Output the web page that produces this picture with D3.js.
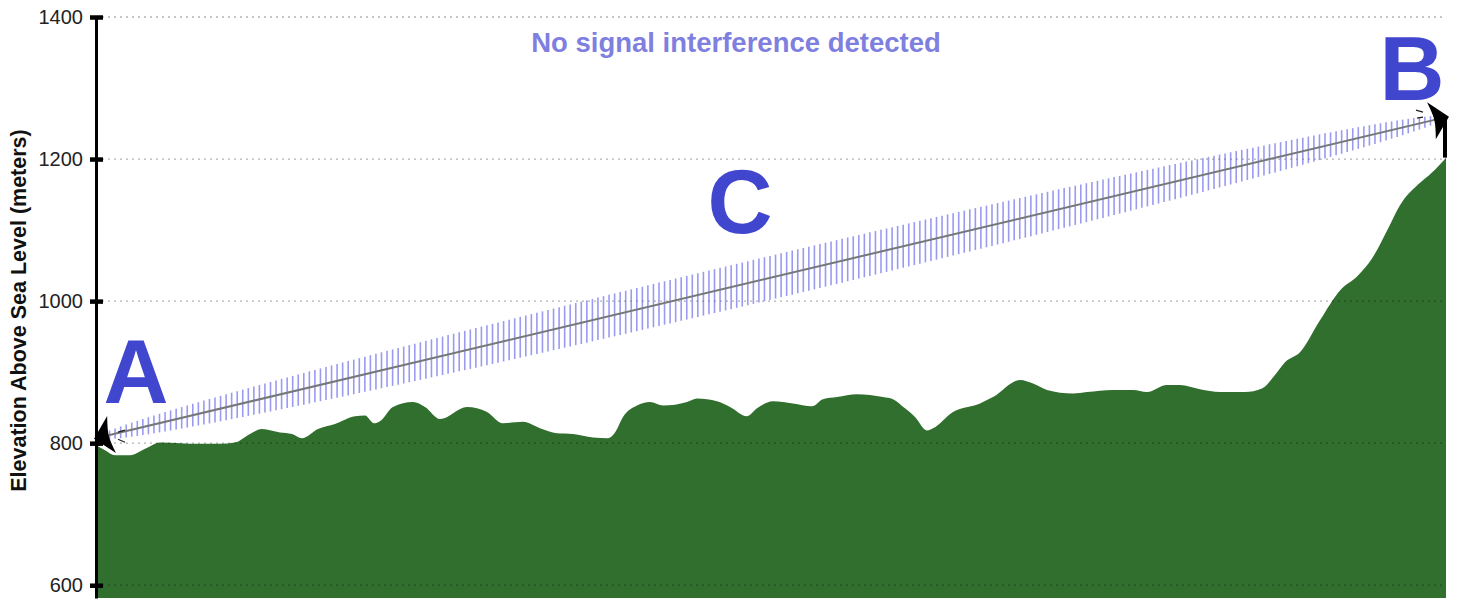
<!DOCTYPE html>
<html>
<head>
<meta charset="utf-8">
<script src="https://cdn.jsdelivr.net/npm/d3@7"></script>
<style>
  html, body { margin: 0; padding: 0; background: #fff; }
  svg { display: block; font-family: "Liberation Sans", Arial, sans-serif; }
</style>
</head>
<body>
<div id="chart"></div>
<script>
// Terrain profile between site A and site B (distance km, elevation m)
const distances = [
  0, 0.18, 0.38, 0.68, 0.98, 1.28, 1.68, 2.08, 2.48, 2.78, 3.08, 3.32, 3.68, 3.92, 4.12,
  4.44, 4.78, 5.18, 5.38, 5.56, 5.68, 5.94, 6.34, 6.58, 6.88, 7.42, 7.82, 8.14, 8.54, 8.88,
  9.22, 9.54, 9.94, 10.24, 10.38, 10.54, 10.82, 11.08, 11.34, 11.82, 12.02, 12.42, 12.68, 13.02, 13.22,
  13.54, 13.94, 14.32, 14.54, 14.82, 15.22, 15.74, 15.94, 16.18, 16.38, 16.62, 16.74, 17.14, 17.68, 17.94,
  18.48, 18.74, 19.02, 19.54, 19.82, 20.34, 20.74, 21.02, 21.42, 21.68, 22.08, 22.48, 22.98, 23.32, 23.58,
  23.78, 24.08, 24.48, 24.88, 25.24, 25.52, 25.84, 26.08, 26.44, 26.72, 27.0
];
const elevations = [
  797, 790, 783, 783, 792, 801, 800, 799, 799, 801, 813, 820, 815, 813, 807,
  820, 827, 838, 839, 828, 831, 851, 858, 851, 834, 851, 844, 828, 830, 821,
  814, 813, 808, 807, 815, 837, 853, 858, 853, 858, 863, 859, 851, 838, 849,
  859, 856, 852, 862, 865, 869, 865, 862, 849, 837, 818, 821, 844, 856, 865,
  889, 884, 875, 870, 872, 875, 875, 872, 882, 882, 876, 872, 872, 877, 896,
  914, 928, 973, 1015, 1036, 1060, 1102, 1135, 1164, 1181, 1202
];

const yTicks = [600, 800, 1000, 1200, 1400];

// Antenna heights (top of mast, m) at each end of the link
const siteNames = ['A', 'B'];
const antennaTop = [807, 1259];
const fresnelRadius = 31;   // first Fresnel zone radius at mid-path (m)
const hatchStep = 0.111;    // km between hatch lines

const titleText = 'No signal interference detected';
const yLabel = 'Elevation Above Sea Level (meters)';

const W = 1458, H = 600;
const margin = { left: 96, right: 12, top: 17, bottom: 2 };

const svg = d3.select('#chart').append('svg')
  .attr('width', W)
  .attr('height', H);

const x = d3.scaleLinear()
  .domain([0, d3.max(distances)])
  .range([margin.left, W - margin.right]);

const y = d3.scaleLinear()
  .domain([582, 1400])
  .range([H - margin.bottom, margin.top]);

const profile = distances.map((d, i) => ({ d, e: elevations[i] }));

// Terrain
svg.append('path')
  .datum(profile)
  .attr('fill', '#316f2f')
  .attr('d', d3.area()
    .x(p => x(p.d))
    .y0(H - margin.bottom)
    .y1(p => y(p.e))
    .curve(d3.curveMonotoneX));

// Grid lines (on top of terrain)
svg.append('g')
  .selectAll('line')
  .data(yTicks)
  .join('line')
  .attr('x1', margin.left)
  .attr('x2', W - margin.right)
  .attr('y1', d => y(d))
  .attr('y2', d => y(d))
  .attr('stroke', 'rgba(0,0,0,0.3)')
  .attr('stroke-width', 1.3)
  .attr('stroke-dasharray', '2,4');

// Line of sight + Fresnel hatch
const d0 = 0, d1 = d3.max(distances);
const los = d => antennaTop[0] + (antennaTop[1] - antennaTop[0]) * (d - d0) / (d1 - d0);
const hatchD = d3.range(d0 + 0.16, d1 - 0.3, hatchStep);
const zone = d => {
  const t = (d - d0) / (d1 - d0);
  return fresnelRadius * 2 * Math.sqrt(t * (1 - t));
};

svg.append('g')
  .selectAll('line')
  .data(hatchD)
  .join('line')
  .attr('x1', d => x(d))
  .attr('x2', d => x(d))
  .attr('y1', d => y(los(d) + zone(d)))
  .attr('y2', d => y(los(d) - zone(d)))
  .attr('stroke', '#5656e8')
  .attr('stroke-opacity', 0.6)
  .attr('stroke-width', 1.6);

// Masts
svg.append('g')
  .selectAll('line')
  .data([0, 1])
  .join('line')
  .attr('x1', i => x(i === 0 ? d0 : d1) - (i === 0 ? -1 : 1))
  .attr('x2', i => x(i === 0 ? d0 : d1) - (i === 0 ? -1 : 1))
  .attr('y1', i => y(i === 0 ? elevations[0] : elevations[elevations.length - 1]))
  .attr('y2', i => y(antennaTop[i]))
  .attr('stroke', '#000')
  .attr('stroke-width', 4);

const ax = x(d0), ay = y(antennaTop[0]);
const bx = x(d1), by = y(antennaTop[1]);
svg.append('line')
  .attr('x1', ax).attr('y1', ay)
  .attr('x2', bx).attr('y2', by)
  .attr('stroke', '#777')
  .attr('stroke-width', 2);

// Arrowheads at both link ends
const angle = Math.atan2(by - ay, bx - ax) * 180 / Math.PI;
const arrowPath = 'M2,0 L-16,-19 Q-13,-6 -13,0 Q-13,6 -16,19 Z';
svg.append('g')
  .selectAll('path')
  .data([
    { px: ax, py: ay, rot: angle + 180 },
    { px: bx + 1, py: by, rot: angle }
  ])
  .join('path')
  .attr('d', arrowPath)
  .attr('transform', d => `translate(${d.px},${d.py}) rotate(${d.rot})`)
  .attr('fill', '#000');

// small ticks near link ends
const endTicks = [
  [ax + 22, ay - 6, ax + 29, ay - 8],
  [ax + 22, ay + 1, ax + 29, ay + 4],
  [bx - 30, by - 7, bx - 23, by - 5],
  [bx - 29, by + 1, bx - 23, by + 0]
];
svg.append('g')
  .selectAll('line')
  .data(endTicks)
  .join('line')
  .attr('x1', d => d[0]).attr('y1', d => d[1])
  .attr('x2', d => d[2]).attr('y2', d => d[3])
  .attr('stroke', '#222')
  .attr('stroke-width', 1.2);

// Y axis
const axis = svg.append('g')
  .attr('transform', `translate(${margin.left},0)`)
  .call(d3.axisLeft(y).tickValues(yTicks).tickFormat(d3.format('d'))
    .tickSizeInner(6).tickSizeOuter(0).tickPadding(7));
axis.select('.domain').attr('stroke', '#000').attr('stroke-width', 3);
axis.selectAll('.tick line')
  .attr('x1', -6).attr('x2', 7)
  .attr('stroke', '#000').attr('stroke-width', 4.5);
axis.selectAll('.tick text')
  .attr('font-size', 20)
  .attr('font-family', '"Liberation Sans", Arial, sans-serif')
  .attr('fill', '#222');

svg.append('text')
  .attr('transform', `translate(26,${(margin.top + H) / 2 + 2}) rotate(-90)`)
  .attr('text-anchor', 'middle')
  .attr('font-size', 21.5)
  .attr('font-weight', 'bold')
  .attr('fill', '#111')
  .text(yLabel);

// Title
svg.append('text')
  .attr('x', 736)
  .attr('y', 52)
  .attr('text-anchor', 'middle')
  .attr('font-size', 27.5)
  .attr('font-weight', 'bold')
  .attr('fill', '#7f7fdf')
  .text(titleText);

// Site letters
const big = [
  { t: siteNames[0], x: 136, y: 403 },
  { t: siteNames[1], x: 1412, y: 100 },
  { t: 'C', x: 740, y: 233 }
];
svg.append('g')
  .selectAll('text')
  .data(big)
  .join('text')
  .attr('x', d => d.x)
  .attr('y', d => d.y)
  .attr('text-anchor', 'middle')
  .attr('font-size', 90)
  .attr('font-weight', 'bold')
  .attr('fill', '#4146cf')
  .text(d => d.t);
</script>
</body>
</html>
